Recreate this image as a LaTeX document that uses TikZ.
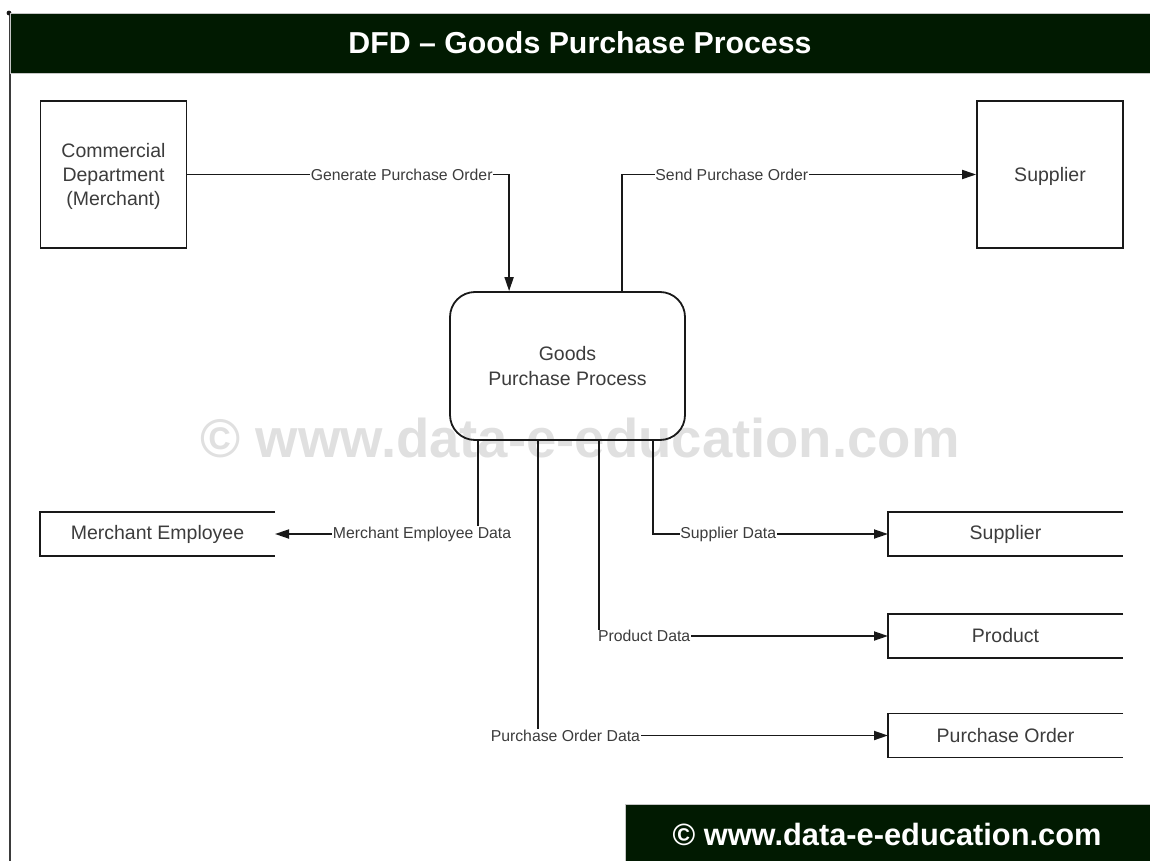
\documentclass[tikz,border=0pt]{standalone}
\usepackage{fontspec}
\setmainfont{Liberation Sans}
\usetikzlibrary{arrows.meta,calc}
\definecolor{dkgreen}{RGB}{1,26,1}
\definecolor{txt}{RGB}{60,60,60}
\definecolor{ln}{RGB}{25,25,25}
\definecolor{wm}{RGB}{224,224,224}
\tikzset{
  entity/.style={draw=ln,line width=1.8pt,minimum width=146pt,minimum height=147pt,align=center,
    font=\fontsize{19.5}{24}\selectfont,text=txt,inner sep=2pt,text depth=0pt},
  procbox/.style={draw=ln,line width=1.8pt,rounded corners=25pt,minimum width=235pt,minimum height=148pt,
    align=center,font=\fontsize{19.5}{24.5}\selectfont,text=txt},
  store/.style={minimum width=235pt,minimum height=44pt,outer sep=0pt,inner sep=0pt,
    font=\fontsize{19.5}{24}\selectfont,text=txt},
  storeline/.style={draw=ln,line width=1.8pt},
  flow/.style={draw=ln,line width=1.8pt,-{Triangle[length=14pt,width=9pt]}},
  lbl/.style={fill=white,inner sep=0.5pt,font=\fontsize{15.8}{17}\selectfont,text=txt},
  banner/.style={fill=dkgreen,draw=gray!45,line width=0.6pt}
}
\begin{document}
\begin{tikzpicture}[x=1pt,y=-1pt]
\useasboundingbox (0,0) rectangle (1150,861);
% watermark
\node[font=\bfseries\fontsize{54.5}{60}\selectfont,text=wm] (wmk) at (580,438) {© www.data-e-education.com};
% frame and title
\draw[ln!85,line width=1.8pt] (10,13) -- (10,861);
\fill[ln] (9,13) circle (2.4pt);
\path[banner] (10,13) rectangle (1152,73);
\node[font=\bfseries\fontsize{30.3}{34}\selectfont,text=white] (title) at (580,43) {DFD – Goods Purchase Process};
% bottom banner
\path[banner] (625,804) rectangle (1152,863);
\node[font=\bfseries\fontsize{30.8}{34}\selectfont,text=white] (foot) at (887,834) {© www.data-e-education.com};
% external entities
\node[entity] (cd) at (113.5,174.5) {Commercial\\Department\\(Merchant)};
\node[entity] (sup) at (1050,174.5) {Supplier};
% process
\node[procbox] (proc) at (567.5,366) {Goods\\Purchase Process};
% data stores
\node[store] (mes) at (157.5,534) {Merchant Employee};
\node[store] (sst) at (1005.5,534) {Supplier};
\node[store] (prd) at (1005.5,636) {Product};
\node[store] (pod) at (1005.5,735.5) {Purchase Order};
\draw[storeline] (mes.north east) -- (mes.north west) -- (mes.south west) -- (mes.south east);
\foreach \s in {sst,prd,pod}{
  \draw[storeline] (\s.north east) -- (\s.north west) -- (\s.south west) -- (\s.south east);
}
% anchor points on the process
\coordinate (pGen) at ($(proc.north west)+(60,0)$);
\coordinate (pSend) at ($(proc.north west)+(173,0)$);
\coordinate (pMer) at ($(proc.south west)+(29,0)$);
\coordinate (pPO) at ($(proc.south west)+(89,0)$);
\coordinate (pPrd) at ($(proc.south west)+(150,0)$);
\coordinate (pSup) at ($(proc.south west)+(204,0)$);
% flows
\draw[flow] (cd.east) -| node[lbl,pos=0.333] {Generate Purchase Order} (pGen);
\draw[flow] (pSend) |- node[lbl,pos=0.655] {Send Purchase Order} (sup.west);
\draw[flow] (pMer) |- node[lbl,pos=0.638] {Merchant Employee Data} (mes.east);
\draw[flow] (pSup) |- node[lbl,pos=0.66] {Supplier Data} (sst.west);
\draw[flow] (pPrd) |- node[lbl,pos=0.578] {Product Data} (prd.west);
\draw[flow] (pPO) |- node[lbl,pos=0.539] {Purchase Order Data} (pod.west);
\end{tikzpicture}
\end{document}
